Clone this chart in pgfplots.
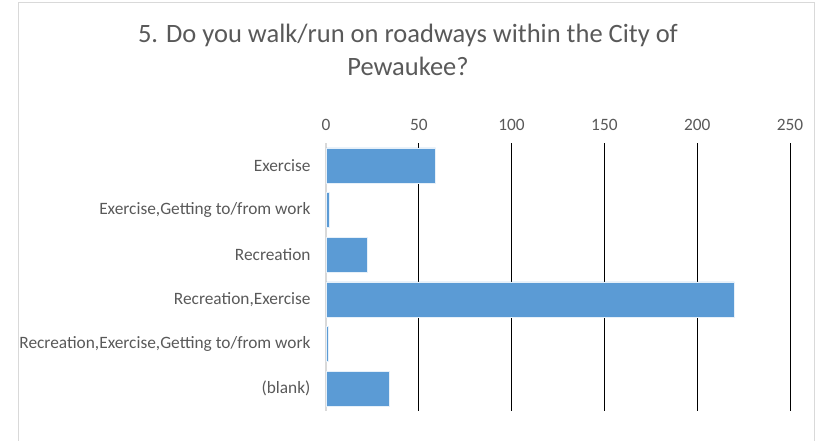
\documentclass[border=0pt]{standalone}
\usepackage{pgfplots}
\pgfplotsset{compat=1.18}
\usepackage{fontspec}
\setmainfont{Carlito}
\definecolor{barblue}{HTML}{5B9BD5}
\definecolor{txtgray}{HTML}{595959}
\definecolor{bordergray}{HTML}{D9D9D9}
\begin{document}
\begin{tikzpicture}
\path[use as bounding box] (0,0) rectangle (821bp,441bp);
\draw[bordergray, line width=0.75bp] (18bp,-10bp) rectangle (814bp,439bp);
\node[text=txtgray, font=\fontsize{26.6}{33}\selectfont, align=center] at (408bp,391bp)
  {5. Do you walk/run on roadways within the City of\\Pewaukee?};
\begin{axis}[
  at={(326bp,30bp)}, anchor=south west,
  scale only axis, width=464bp, height=268bp,
  xbar, y dir=reverse,
  xmin=0, xmax=250, ymin=-0.5, ymax=5.5,
  xtick={0,50,100,150,200,250},
  ytick={0,1,2,3,4,5},
  yticklabels={Exercise,{Exercise,Getting to/from work},Recreation,{Recreation,Exercise},{Recreation,Exercise,Getting to/from work},(blank)},
  xticklabel pos=top,
  axis x line*=top, axis y line*=left,
  x axis line style={draw=none},
  y axis line style={draw=bordergray, line width=1.5bp, -},
  major tick length=0pt,
  xmajorgrids, major grid style={black, line width=0.9bp},
  tick label style={text=txtgray, font=\fontsize{17.4}{20}\selectfont},
  xticklabel style={yshift=9bp},
  yticklabel style={xshift=-12bp},
  /pgf/number format/assume math mode=true,
  bar width=35bp,
  clip=false,
]
\addplot[fill=barblue, draw=white!85!barblue, line width=0.5bp] coordinates {
  (59,0) (2,1) (22,2) (220,3) (1,4) (34,5)
};
\end{axis}
\end{tikzpicture}
\end{document}
